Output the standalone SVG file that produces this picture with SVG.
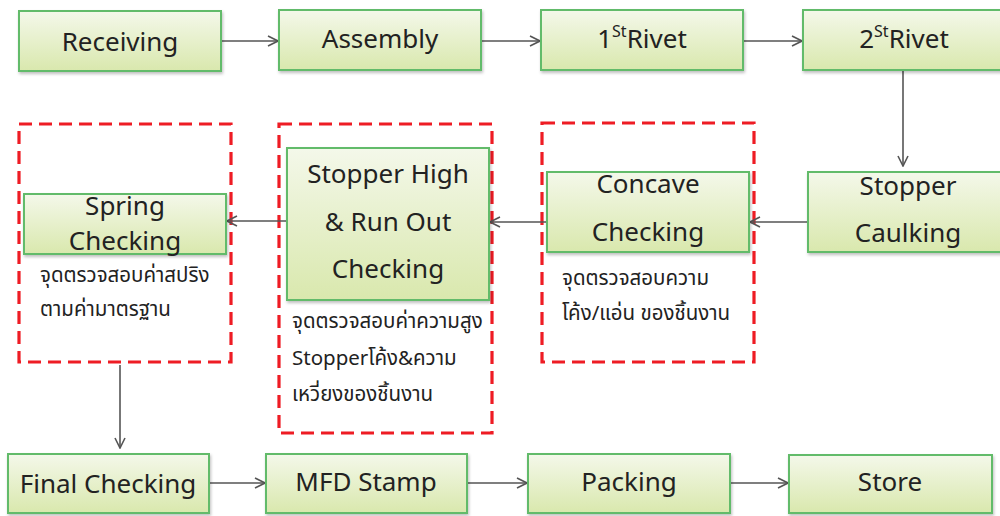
<svg xmlns="http://www.w3.org/2000/svg" width="1000" height="516" viewBox="0 0 1000 516">
  <style>
    .box { fill: url(#boxFill); stroke: #62bb6a; stroke-width: 2; filter: url(#shadow); }
    .lbl { font-family: "Noto Sans", "Open Sans", "Noto Sans Thai", sans-serif; font-size: 26px; fill: #222; text-anchor: middle; }
    .note { font-family: "Noto Sans", "Noto Sans Thai", "Open Sans", sans-serif; font-size: 20.5px; fill: #222; }
    .zone { fill: none; stroke: #ee1c24; stroke-width: 3.2; stroke-dasharray: 13 7; }
    .conn { fill: none; stroke: #555; stroke-width: 1.6; marker-end: url(#arrow); }
  </style>
  <defs>
    <linearGradient id="boxFill" x1="0" y1="0" x2="0" y2="1">
      <stop offset="0" stop-color="#f4f8ea"/>
      <stop offset="1" stop-color="#d9e8ad"/>
    </linearGradient>
    <filter id="shadow" x="-5%" y="-5%" width="115%" height="125%">
      <feDropShadow dx="1" dy="2" stdDeviation="1.5" flood-color="#000" flood-opacity="0.25"/>
    </filter>
    <marker id="arrow" viewBox="0 0 12 12" refX="11" refY="6" markerWidth="12" markerHeight="12" markerUnits="userSpaceOnUse" orient="auto">
      <path d="M1 1 L11 6 L1 11" fill="none" stroke="#555" stroke-width="1.6"/>
    </marker>
  </defs>

  <!-- inspection zones -->
  <g id="zones">
    <rect class="zone" x="19" y="124" width="212" height="238"/>
    <rect class="zone" x="279" y="124" width="213" height="309"/>
    <rect class="zone" x="542" y="123" width="212" height="239"/>
  </g>

  <!-- connectors -->
  <g id="connectors">
    <line class="conn" x1="221" y1="41" x2="278" y2="41"/>
    <line class="conn" x1="481" y1="41" x2="540" y2="41"/>
    <line class="conn" x1="743" y1="41" x2="802" y2="41"/>
    <line class="conn" x1="903" y1="70" x2="903" y2="166"/>
    <line class="conn" x1="808" y1="222" x2="750" y2="222"/>
    <line class="conn" x1="547" y1="222" x2="490" y2="222"/>
    <line class="conn" x1="287" y1="221" x2="227" y2="221"/>
    <line class="conn" x1="120" y1="365" x2="120" y2="448"/>
    <line class="conn" x1="209" y1="483" x2="265" y2="483"/>
    <line class="conn" x1="467" y1="483" x2="527" y2="483"/>
    <line class="conn" x1="730" y1="483" x2="788" y2="483"/>
  </g>

  <!-- top row -->
  <g id="receiving">
    <rect class="box" x="19" y="11" width="202" height="60"/>
    <text class="lbl" x="120" y="51">Receiving</text>
  </g>
  <g id="assembly">
    <rect class="box" x="279" y="10" width="202" height="60"/>
    <text class="lbl" x="380" y="48">Assembly</text>
  </g>
  <g id="rivet1">
    <rect class="box" x="541" y="10" width="202" height="60"/>
    <text class="lbl" x="642" y="48">1<tspan font-size="16" dy="-11">St</tspan><tspan dy="11">Rivet</tspan></text>
  </g>
  <g id="rivet2">
    <rect class="box" x="803" y="10" width="205" height="60"/>
    <text class="lbl" x="904" y="48">2<tspan font-size="16" dy="-11">St</tspan><tspan dy="11">Rivet</tspan></text>
  </g>

  <!-- middle row -->
  <g id="stopper-caulking">
    <rect class="box" x="808" y="172" width="205" height="80"/>
    <text class="lbl" x="908" y="195">Stopper</text>
    <text class="lbl" x="908" y="242">Caulking</text>
  </g>
  <g id="concave-checking">
    <rect class="box" x="547" y="172" width="202" height="80"/>
    <text class="lbl" x="648" y="193">Concave</text>
    <text class="lbl" x="648" y="241">Checking</text>
    <text class="note" x="562" y="285">จุดตรวจสอบความ</text>
    <text class="note" x="562" y="320">โค้ง/แอ่น ของชิ้นงาน</text>
  </g>
  <g id="stopper-high-checking">
    <rect class="box" x="287" y="148" width="202" height="152"/>
    <text class="lbl" x="388" y="183">Stopper High</text>
    <text class="lbl" x="388" y="231">&amp; Run Out</text>
    <text class="lbl" x="388" y="278">Checking</text>
    <text class="note" x="292" y="328">จุดตรวจสอบค่าความสูง</text>
    <text class="note" x="292" y="365">Stopperโค้ง&amp;ความ</text>
    <text class="note" x="292" y="401">เหวี่ยงของชิ้นงาน</text>
  </g>
  <g id="spring-checking">
    <rect class="box" x="24" y="194" width="202" height="60"/>
    <text class="lbl" x="125" y="215" font-size="25">Spring</text>
    <text class="lbl" x="125" y="250" font-size="25">Checking</text>
    <text class="note" x="40" y="282">จุดตรวจสอบค่าสปริง</text>
    <text class="note" x="40" y="316">ตามค่ามาตรฐาน</text>
  </g>

  <!-- bottom row -->
  <g id="final-checking">
    <rect class="box" x="8" y="454" width="201" height="59"/>
    <text class="lbl" x="108" y="493">Final Checking</text>
  </g>
  <g id="mfd-stamp">
    <rect class="box" x="266" y="454" width="201" height="59"/>
    <text class="lbl" x="366" y="491">MFD Stamp</text>
  </g>
  <g id="packing">
    <rect class="box" x="528" y="454" width="202" height="59"/>
    <text class="lbl" x="629" y="491">Packing</text>
  </g>
  <g id="store">
    <rect class="box" x="789" y="455" width="203" height="58"/>
    <text class="lbl" x="890" y="491">Store</text>
  </g>
</svg>
